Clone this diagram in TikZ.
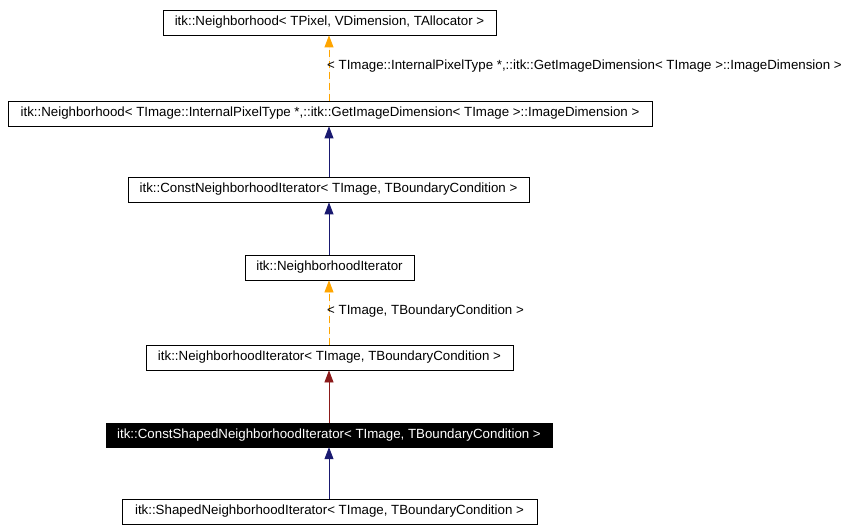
\documentclass[tikz,border=0pt]{standalone}
\usepackage{fontspec}
\setmainfont{Liberation Sans}
\usetikzlibrary{arrows.meta}
\definecolor{navyc}{HTML}{191970}
\definecolor{orangec}{HTML}{FFA500}
\definecolor{redc}{HTML}{8B1A1A}
\begin{document}
\begin{tikzpicture}[x=1pt,y=-1pt,
  cls/.style={draw=black,line width=0.8pt,fill=white,inner sep=0pt,minimum height=25pt,font=\fontsize{13.3}{15}\selectfont},
  sel/.style={draw=black,fill=black,text=white,inner sep=0pt,minimum height=24pt,font=\fontsize{13.3}{15}\selectfont},
  inh/.style={line width=0.8pt,-{Triangle[length=12pt,width=9pt]}},
  lbl/.style={anchor=west,inner sep=0pt,font=\fontsize{13.3}{15}\selectfont}]
\useasboundingbox (0,0) rectangle (855,532);
\node[cls,minimum width=333pt] (n1) at (329.5,22.5) {itk::Neighborhood< TPixel, VDimension, TAllocator >};
\node[cls,minimum width=644pt] (n2) at (330,113.5) {itk::Neighborhood< TImage::InternalPixelType *,::itk::GetImageDimension< TImage >::ImageDimension >};
\node[cls,minimum width=401pt] (n3) at (328.5,189.5) {itk::ConstNeighborhoodIterator< TImage, TBoundaryCondition >};
\node[cls,minimum width=169pt] (n4) at (329.5,267.5) {itk::NeighborhoodIterator};
\node[cls,minimum width=367pt] (n5) at (329.5,357.5) {itk::NeighborhoodIterator< TImage, TBoundaryCondition >};
\node[sel,minimum width=446pt] (n6) at (329,435) {itk::ConstShapedNeighborhoodIterator< TImage, TBoundaryCondition >};
\node[cls,minimum width=415pt] (n7) at (329.5,511.5) {itk::ShapedNeighborhoodIterator< TImage, TBoundaryCondition >};
\draw[inh,draw=orangec,fill=orangec,dash pattern=on 7pt off 4pt] (n2.north -| 329,0) -- (n1.south -| 329,0);
\draw[inh,draw=navyc,fill=navyc] (n3.north -| 329,0) -- (n2.south -| 329,0);
\draw[inh,draw=navyc,fill=navyc] (n4.north -| 329,0) -- (n3.south -| 329,0);
\draw[inh,draw=orangec,fill=orangec,dash pattern=on 7pt off 4pt] (n5.north -| 329,0) -- (n4.south -| 329,0);
\draw[inh,draw=redc,fill=redc] (n6.north -| 329,0) -- (n5.south -| 329,0);
\draw[inh,draw=navyc,fill=navyc] (n7.north -| 329,0) -- (n6.south -| 329,0);
\node[lbl] (l1) at (327,66) {< TImage::InternalPixelType *,::itk::GetImageDimension< TImage >::ImageDimension >};
\node[lbl] (l2) at (327,311) {< TImage, TBoundaryCondition >};
\end{tikzpicture}
\end{document}
